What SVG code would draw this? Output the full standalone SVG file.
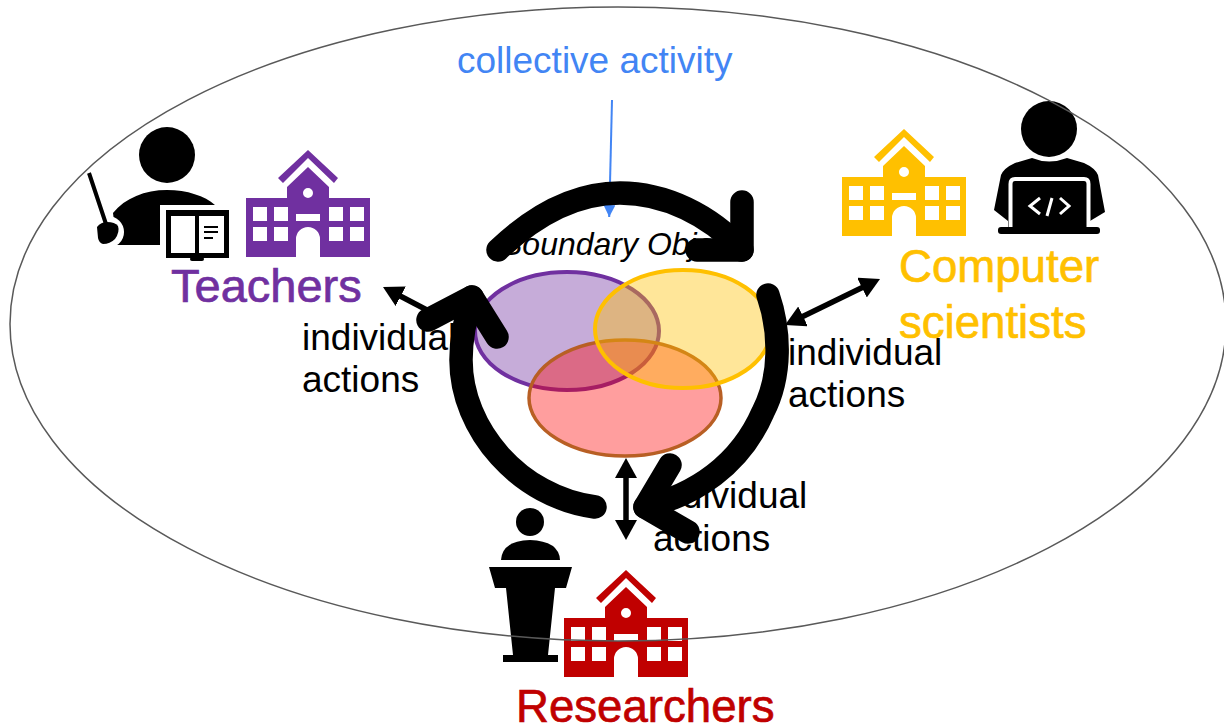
<svg xmlns="http://www.w3.org/2000/svg" width="1224" height="727" viewBox="0 0 1224 727">
<style>
text{font-family:"Liberation Sans",Arial,sans-serif}
.lbl{font-size:37px;fill:#000}
.who{font-size:45.6px;stroke-width:.7px}
.big{fill:none;stroke:#000;stroke-width:23.500;stroke-linecap:round;stroke-linejoin:round}
.small{fill:none;stroke:#000;stroke-width:5.500;marker-start:url(#tri);marker-end:url(#tri)}
</style>
<defs>
<marker id="tri" markerUnits="userSpaceOnUse" markerWidth="24" markerHeight="24" refX="6" refY="11" orient="auto-start-reverse"><path d="M0 0L20 11L0 22z" fill="#000"/></marker>
<marker id="blue" markerUnits="userSpaceOnUse" markerWidth="14" markerHeight="14" refX="12" refY="6" orient="auto"><path d="M0 0L12 6L0 12z" fill="#4285f4"/></marker>
<symbol id="school" width="124" height="107" viewBox="0 0 124 107" overflow="visible">
<path fill="currentColor" d="M62 0L92 28L88 33L62 8L37 33L32 28z"/>
<path fill="currentColor" fill-rule="evenodd" d="M62 17L83 37V48H124V107H74V89A12 12 0 0 0 50 89V107H0V48H41V37zM7 57V71H21V57zM28 57V71H42V57zM83 57V71H97V57zM104 57V71H118V57zM7 77V91H21V77zM28 77V91H42V77zM83 77V91H97V77zM104 77V91H118V77zM50 64V71H74V64zM57 43A5 5 0 0 0 67 43A5 5 0 0 0 57 43z"/>
</symbol>
</defs>
<rect width="1224" height="727" fill="#fff"/>
<g id="teachers">
<circle cx="167" cy="155" r="28"/>
<path d="M113 213C125 198 145 190 167 190C187 190 205 196 215 205H160V245H117z"/>
<circle cx="108" cy="232" r="16" fill="#fff"/>
<path d="M89 173L106 224" stroke="#000" stroke-width="4" fill="none"/>
<path d="M97 227Q101 222 107 222Q115 222 118 226Q120 232 115 239Q110 244 103 244Q99 243 98 238z"/>
<rect x="166" y="210" width="63" height="48"/>
<rect x="171" y="216" width="24" height="37" fill="#fff"/>
<rect x="199" y="216" width="25" height="37" fill="#fff"/>
<path d="M204 227H218M204 232H218M204 238H213" stroke="#000" stroke-width="2" fill="none"/>
<rect x="190" y="257" width="14" height="4" rx="2"/>
<use href="#school" x="246" y="150" color="#7030a0"/>
<text class="who" x="171" y="302" fill="#7030a0" stroke="#7030a0" style="font-size:47px">Teachers</text>
</g>
<g id="computer-scientists">
<use href="#school" x="842" y="129" color="#ffc000"/>
<circle cx="1049" cy="129" r="28"/>
<path d="M1032 158Q1049 165 1067 158L1084 163Q1095 168 1098 175L1105 212L1090 221V227H1008V221L994 210L1001 175Q1004 168 1015 163z"/>
<path d="M1010.500 227V184Q1010.500 179 1015 179H1084Q1088.500 179 1088.500 184V227" stroke="#fff" stroke-width="4" fill="none"/>
<rect x="998" y="227" width="102" height="7" rx="3"/>
<path d="M1040 198L1030 206L1040 214M1052 198L1047 216M1060 198L1069 206L1060 214" stroke="#fff" stroke-width="3" fill="none"/>
<text class="who" x="899" y="282" fill="#ffc000" stroke="#ffc000">Computer</text>
<text class="who" x="899" y="338" fill="#ffc000" stroke="#ffc000">scientists</text>
</g>
<g id="researchers">
<circle cx="530" cy="522" r="14"/>
<path d="M501 560Q502 541 530 540Q559 541 560 560z"/>
<path d="M489 567H572L566 588H555L548 655H558V662H503V655H513L506 588H495z"/>
<use href="#school" x="564" y="570" color="#c00000"/>
<text class="who" x="516" y="722" fill="#c00000" stroke="#c00000">Researchers</text>
</g>
<g id="boundary-object">
<ellipse cx="567" cy="331" rx="92" ry="59" fill="#7030a0" fill-opacity=".4" stroke="#7030a0" stroke-width="4"/>
<ellipse cx="625" cy="398" rx="96" ry="58" fill="#ff0000" fill-opacity=".38" stroke="#b85f24" stroke-width="3.500"/>
<ellipse cx="683" cy="329" rx="88" ry="59" fill="#ffc000" fill-opacity=".4" stroke="#ffc000" stroke-width="4"/>
<text x="501" y="255" font-size="32" font-style="italic">Boundary Object</text>
</g>
<g id="labels">
<text x="457" y="73" font-size="37" fill="#4285f4">collective activity</text>
<text class="lbl" x="302" y="350">individual</text>
<text class="lbl" x="302" y="392">actions</text>
<text class="lbl" x="788" y="365">individual</text>
<text class="lbl" x="788" y="407">actions</text>
<text class="lbl" x="653" y="508">individual</text>
<text class="lbl" x="653" y="551">actions</text>
</g>
<g id="connectors">
<path d="M612 100L609.200 217" stroke="#4285f4" stroke-width="2" fill="none" marker-end="url(#blue)"/>
<path class="small" d="M446 320L395.400 293.500" style="marker-start:none"/>
<path class="small" d="M797.600 318.900L867.400 285.100"/>
<path class="small" d="M626 472V526"/>
<path class="big" d="M498 250C540 210 580 193 620 193C665 193 710 215 742 250"/>
<path class="big" d="M742 202V250H697"/>
<path class="big" d="M595 507C520 497 461 430 461 360C461 335 466 315 472 297"/>
<path class="big" d="M428 320L472 297L497 337"/>
<path class="big" d="M768 295C780 330 782 375 763 412C740 465 695 495 645 507"/>
<path class="big" d="M670 465L645 507L688 532"/>
</g>
<ellipse id="collective-activity" cx="618" cy="324" rx="608" ry="317" fill="none" stroke="#595959" stroke-width="1.500"/>
</svg>
